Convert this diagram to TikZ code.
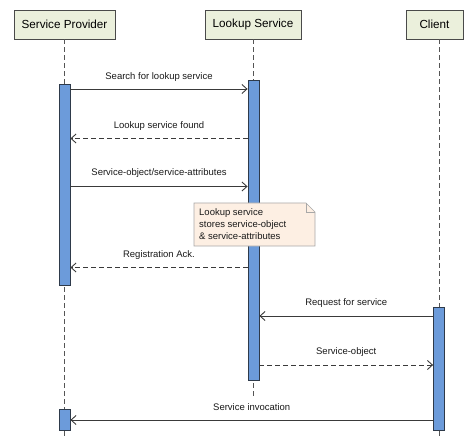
\documentclass[tikz,border=0pt]{standalone}
\usepackage{fontspec}
\setmainfont{Liberation Sans}
\usetikzlibrary{arrows.meta}
\definecolor{hdrfill}{HTML}{EBF0DC}
\definecolor{hdrline}{HTML}{4A4A4A}
\definecolor{barfill}{HTML}{6C9BDA}
\definecolor{barline}{HTML}{2E3A4A}
\definecolor{notefill}{HTML}{FDEFE3}
\definecolor{noteline}{HTML}{A8A8A8}
\definecolor{msgline}{HTML}{3A3A3A}
\definecolor{lifeline}{HTML}{555555}
\tikzset{
  hdr/.style={draw=hdrline, fill=hdrfill, line width=0.8pt, inner sep=0pt,
    minimum height=29pt, font=\fontsize{11.7}{14}\selectfont},
  bar/.style={draw=barline, fill=barfill, line width=0.8pt, minimum width=11pt, inner sep=0pt, anchor=north},
  life/.style={draw=lifeline, line width=0.8pt, dash pattern=on 5pt off 3pt},
  msg/.style={draw=msgline, line width=0.9pt, -{Straight Barb[length=5pt,width=9pt]}},
  rep/.style={msg, dash pattern=on 5pt off 3pt},
  lbl/.style={font=\fontsize{9.5}{12}\selectfont, inner sep=0pt, text=black!90},
  notebox/.style={draw=noteline, fill=notefill, line width=0.6pt},
}
\begin{document}
\begin{tikzpicture}[x=1pt,y=-1pt]
\useasboundingbox (0,0) rectangle (465,438);
% headers
\node[hdr, minimum width=101pt] (sp) at (64.5,24.5) {Service Provider};
\node[hdr, minimum width=96pt] (ls) at (253,24.5) {Lookup Service};
\node[hdr, minimum width=57pt] (cl) at (434.5,24.5) {Client};
% lifeline ends
\coordinate (spend) at (64.5,438);
\coordinate (lsend) at (253.5,398);
\coordinate (clend) at (439,438);
\draw[life] (sp.south -| spend) -- (spend);
\draw[life] (ls.south -| lsend) -- (lsend);
\draw[life] (cl.south -| clend) -- (clend);
% activation bars
\node[bar, minimum height=201pt] (spb) at (64.5,84) {};
\node[bar, minimum height=300pt] (lsb) at (253.5,80) {};
\node[bar, minimum height=123pt] (clb) at (439,307) {};
\node[bar, minimum height=21pt] (spb2) at (64.5,409) {};
% messages
\draw[msg] (spb.east |- 0,89) -- node[lbl, yshift=12pt] {Search for lookup service} (lsb.west |- 0,89);
\draw[rep] (lsb.west |- 0,138.5) -- node[lbl, yshift=12.5pt] {Lookup service found} (spb.east |- 0,138.5);
\draw[msg] (spb.east |- 0,186.5) -- node[lbl, yshift=13pt] {Service-object/service-attributes} (lsb.west |- 0,186.5);
\draw[rep] (lsb.west |- 0,267.5) -- node[lbl, yshift=12.5pt] {Registration Ack.} (spb.east |- 0,267.5);
\draw[msg] (clb.west |- 0,316) -- node[lbl, yshift=12.5pt] {Request for service} (lsb.east |- 0,316);
\draw[rep] (lsb.east |- 0,365) -- node[lbl, yshift=12.5pt] {Service-object} (clb.west |- 0,365);
\draw[msg] (clb.west |- 0,420) -- node[lbl, yshift=12.5pt] {Service invocation} (spb2.east |- 0,420);
% note
\coordinate (nnw) at (194,203);
\coordinate (nse) at (315,246);
\draw[notebox] (nnw) -- ([xshift=-9pt]nnw -| nse) -- ([yshift=-9pt]nnw -| nse)
  -- (nse) -- (nnw |- nse) -- cycle;
\draw[notebox, fill=none] ([xshift=-9pt]nnw -| nse) -- ([xshift=-9pt,yshift=-9pt]nnw -| nse) -- ([yshift=-9pt]nnw -| nse);
\path (nnw) ++(5pt,-21.5pt) node[lbl, anchor=west, align=left] (note)
  {\fontsize{9.5}{12.5}\selectfont Lookup service\\stores service-object\\\& service-attributes};
\end{tikzpicture}
\end{document}
